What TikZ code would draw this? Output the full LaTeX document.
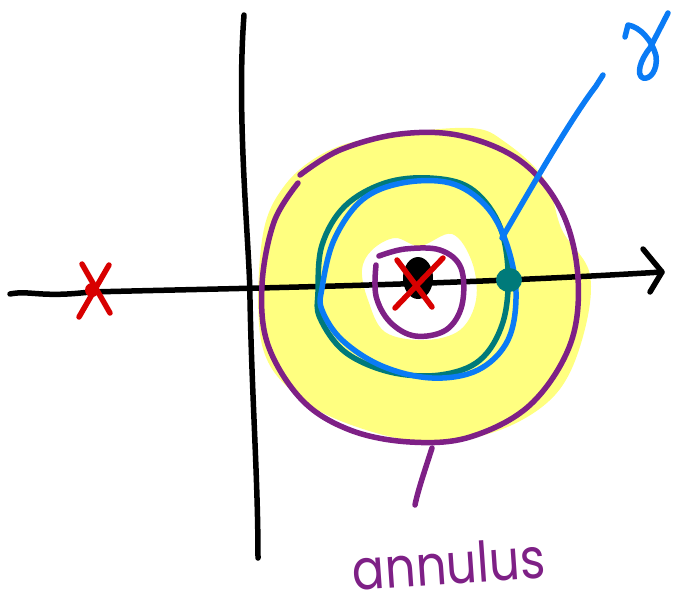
\documentclass[tikz,border=0pt]{standalone}
\usepackage{fontspec}
\newfontfamily\handfont{Poppins}
\definecolor{ayellow}{HTML}{FFFF80}
\definecolor{apurple}{HTML}{7E2086}
\definecolor{ablue}{HTML}{0A7BF5}
\definecolor{ateal}{HTML}{007A7A}
\definecolor{ared}{HTML}{D80000}
\tikzset{
  pen/.style={line width=5.5pt, line cap=round, line join=round},
  axisline/.style={pen, black},
  purpleline/.style={pen, apurple},
  blueline/.style={pen, ablue},
  tealline/.style={pen, ateal},
  redline/.style={pen, ared},
}
\begin{document}
\begin{tikzpicture}[x=1pt,y=-1pt]
\useasboundingbox (0,0) rectangle (675,603);
% yellow annulus
\fill[ayellow, even odd rule]
  plot[smooth cycle, tension=0.6] coordinates {(262,240) (285,185) (330,150) (390,135) (470,128) (505,142) (545,180) (562,230) (590,275) (582,340) (555,395) (500,430) (430,442) (360,428) (300,398) (262,345)}
  plot[smooth cycle, tension=0.6] coordinates {(372,250) (395,238) (420,246) (452,234) (472,262) (476,300) (460,330) (425,340) (385,332) (368,300) (362,270)};
% axes
\coordinate (vtop) at (244,15);
\coordinate (vbot) at (258,558);
\draw[axisline] (vtop) .. controls (236,120) and (250,250) .. (250,300) .. controls (252,400) and (258,480) .. (vbot);
\coordinate (hl) at (10,294);
\coordinate (hr) at (662,272);
\draw[axisline] (hl) .. controls (30,290) and (40,298) .. (90,292) .. controls (250,288) and (450,285) .. (hr);
\draw[axisline] (643,249) -- (hr) -- (650,292);
% outer purple circle
\draw[purpleline] plot[smooth, tension=0.6] coordinates {(300,175) (340,150) (400,134) (462,136) (522,162) (562,212) (578,278) (570,345) (530,405) (470,437) (410,442) (350,430) (302,400) (268,345) (262,285) (274,222) (298,183)};
% inner purple circle
\draw[purpleline] plot[smooth, tension=0.6] coordinates {(379,256) (405,249) (440,250) (461,268) (462,305) (446,330) (415,336) (390,322) (376,296) (376,265)};
% teal circle
\draw[tealline] plot[smooth cycle, tension=0.6] coordinates {(318,292) (322,245) (345,206) (385,183) (430,178) (470,188) (498,222) (508,270) (503,322) (480,360) (440,375) (390,372) (345,352) (320,318)};
% blue curve gamma
\draw[blueline] plot[smooth cycle, tension=0.6] coordinates {(322,288) (334,240) (362,200) (402,183) (450,183) (485,205) (506,242) (516,292) (508,340) (478,370) (432,378) (382,366) (342,340) (322,310)};
% points
\fill[ateal] (509,280) ellipse (13pt and 12pt);
\fill[black] (418,278) ellipse (15pt and 21pt);
% red crosses
\draw[redline] (397,260) -- (432,307);
\draw[redline] (443,258) -- (395,308);
\fill[ared] (92,290) circle (7pt);
\draw[redline] (82,264) -- (110,313);
\draw[redline] (109,265) -- (79,317);
% gamma pointer and label
\coordinate (gptr) at (502,238);
\draw[blueline] (gptr) .. controls (530,190) and (570,120) .. (596,86) -- (603,75);
\draw[blueline] (625,37) -- (628,25) .. controls (640,27) and (652,40) .. (656,56) .. controls (658,70) and (650,80) .. (643,78) .. controls (636,75) and (640,60) .. (650,48) -- (668,13);
% annulus label
\coordinate (apt) at (432,448);
\draw[purpleline] (apt) .. controls (425,470) and (418,490) .. (415,505);
\node[apurple, rotate=4, xscale=0.86, inner sep=0pt, anchor=base] (annulus) at (450,584) {\handfont\fontsize{56}{56}\selectfont annulus};
\end{tikzpicture}
\end{document}
